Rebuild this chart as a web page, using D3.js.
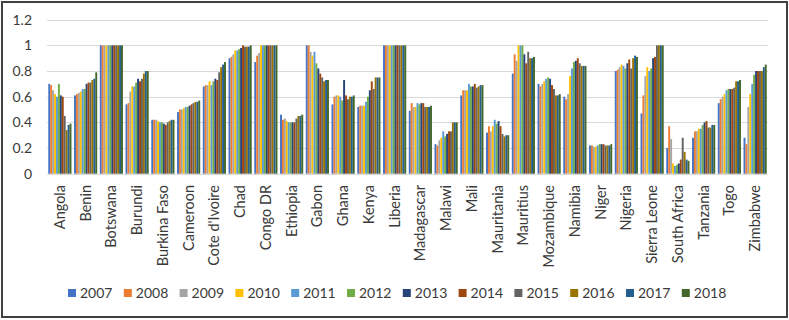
<!DOCTYPE html>
<html lang="en">
<head>
<meta charset="UTF-8"/>
<title>Grouped bars by country, 2007-2018</title>
<script src="https://d3js.org/d3.v7.min.js"></script>
<style>
    body { margin: 0; background: #fff; }
    text { font-family: Lato, "Liberation Sans", sans-serif; fill: #3a3a3a; }
</style>
</head>
<body>
<script>
    //chart size
    var w = 789;
    var h = 320;

    //categories and series
    var countries = ["Angola", "Benin", "Botswana", "Burundi", "Burkina Faso", "Cameroon", "Cote d'Ivoire",
        "Chad", "Congo DR", "Ethiopia", "Gabon", "Ghana", "Kenya", "Liberia", "Madagascar", "Malawi", "Mali",
        "Mauritania", "Mauritius", "Mozambique", "Namibia", "Niger", "Nigeria", "Sierra Leone", "South Africa",
        "Tanzania", "Togo", "Zimbabwe"];
    var years = ["2007", "2008", "2009", "2010", "2011", "2012", "2013", "2014", "2015", "2016", "2017", "2018"];
    var colors = ["#4472C4", "#ED7D31", "#A5A5A5", "#FFC000", "#5B9BD5", "#70AD47",
        "#264478", "#9E480E", "#636363", "#997300", "#255E91", "#43682B"];
    var yTicks = [0, 0.2, 0.4, 0.6, 0.8, 1, 1.2];

    //values per country, one per year
    var angola      = [0.70, 0.69, 0.65, 0.62, 0.60, 0.70, 0.61, 0.60, 0.45, 0.34, 0.38, 0.39];
    var benin       = [0.61, 0.62, 0.63, 0.64, 0.66, 0.66, 0.70, 0.71, 0.71, 0.73, 0.74, 0.79];
    var botswana    = [1, 1, 1, 1, 1, 1, 1, 1, 1, 1, 1, 1];
    var burundi     = [0.54, 0.55, 0.64, 0.68, 0.68, 0.71, 0.74, 0.72, 0.74, 0.78, 0.80, 0.80];
    var burkina     = [0.42, 0.42, 0.42, 0.41, 0.40, 0.40, 0.39, 0.38, 0.40, 0.41, 0.42, 0.42];
    var cameroon    = [0.48, 0.50, 0.50, 0.51, 0.52, 0.52, 0.53, 0.54, 0.55, 0.56, 0.56, 0.57];
    var coteIvoire  = [0.68, 0.69, 0.69, 0.72, 0.69, 0.72, 0.74, 0.73, 0.79, 0.83, 0.85, 0.87];
    var chad        = [0.90, 0.91, 0.93, 0.96, 0.96, 0.97, 0.98, 1.00, 0.99, 0.99, 0.99, 1.00];
    var congoDR     = [0.87, 0.92, 0.94, 1, 1, 1, 1, 1, 1, 1, 1, 1];
    var ethiopia    = [0.46, 0.42, 0.43, 0.41, 0.40, 0.40, 0.40, 0.40, 0.43, 0.45, 0.45, 0.46];
    var gabon       = [1.00, 1.00, 0.95, 0.92, 0.95, 0.86, 0.82, 0.78, 0.75, 0.72, 0.73, 0.73];
    var ghana       = [0.54, 0.60, 0.61, 0.61, 0.60, 0.57, 0.73, 0.61, 0.58, 0.60, 0.60, 0.61];
    var kenya       = [0.52, 0.53, 0.53, 0.53, 0.56, 0.60, 0.65, 0.72, 0.66, 0.75, 0.75, 0.75];
    var liberia     = [1, 1, 1, 1, 1, 1, 1, 1, 1, 1, 1, 1];
    var madagascar  = [0.49, 0.55, 0.52, 0.52, 0.55, 0.54, 0.55, 0.55, 0.52, 0.52, 0.52, 0.53];
    var malawi      = [0.23, 0.22, 0.26, 0.28, 0.33, 0.29, 0.31, 0.33, 0.33, 0.40, 0.40, 0.40];
    var mali        = [0.61, 0.65, 0.65, 0.65, 0.70, 0.68, 0.68, 0.70, 0.67, 0.68, 0.69, 0.69];
    var mauritania  = [0.32, 0.37, 0.33, 0.37, 0.42, 0.39, 0.41, 0.37, 0.31, 0.29, 0.30, 0.30];
    var mauritius   = [0.78, 0.93, 0.88, 1.00, 1.00, 1.00, 0.93, 0.86, 0.95, 0.90, 0.90, 0.91];
    var mozambique  = [0.70, 0.68, 0.70, 0.72, 0.74, 0.75, 0.74, 0.69, 0.66, 0.61, 0.61, 0.62];
    var namibia     = [0.60, 0.58, 0.62, 0.76, 0.82, 0.87, 0.88, 0.90, 0.86, 0.84, 0.84, 0.84];
    var niger       = [0.22, 0.22, 0.21, 0.21, 0.22, 0.23, 0.23, 0.23, 0.22, 0.22, 0.22, 0.23];
    var nigeria     = [0.80, 0.81, 0.83, 0.85, 0.84, 0.82, 0.86, 0.89, 0.82, 0.90, 0.92, 0.91];
    var sierraLeone = [0.47, 0.61, 0.76, 0.83, 0.80, 0.82, 0.90, 0.91, 1, 1, 1, 1];
    var southAfrica = [0.20, 0.37, 0.27, 0.08, 0.06, 0.07, 0.08, 0.11, 0.28, 0.17, 0.11, 0.10];
    var tanzania    = [0.28, 0.33, 0.33, 0.35, 0.35, 0.38, 0.40, 0.41, 0.36, 0.36, 0.38, 0.38];
    var togo        = [0.55, 0.58, 0.60, 0.62, 0.65, 0.66, 0.66, 0.66, 0.67, 0.72, 0.72, 0.73];
    var zimbabwe    = [0.28, 0.23, 0.52, 0.62, 0.70, 0.77, 0.80, 0.80, 0.80, 0.80, 0.83, 0.85];

    var values = [angola, benin, botswana, burundi, burkina, cameroon, coteIvoire, chad, congoDR,
        ethiopia, gabon, ghana, kenya, liberia, madagascar, malawi, mali, mauritania, mauritius,
        mozambique, namibia, niger, nigeria, sierraLeone, southAfrica, tanzania, togo, zimbabwe];

    //plot area
    var plotLeft = 47, plotRight = 768, plotTop = 19.7, plotBottom = 173.7;

    var svg = d3.select("body")
        .append("svg")
        .attr("width", w)
        .attr("height", h);

    //outer frame
    svg.append("rect")
        .attr("x", 2).attr("y", 2)
        .attr("width", w - 4).attr("height", h - 5)
        .attr("fill", "none")
        .attr("stroke", "#404040")
        .attr("stroke-width", 2);

    //scales
    var xScale = d3.scaleBand()
        .domain(countries)
        .range([plotLeft, plotRight])
        .paddingInner(0.1)
        .paddingOuter(0.05);

    var xInner = d3.scaleBand()
        .domain(years)
        .range([0, xScale.bandwidth()]);

    var yScale = d3.scaleLinear()
        .domain([0, 1.2])
        .range([plotBottom, plotTop]);

    //gridlines
    svg.append("g")
        .selectAll("line")
        .data(yTicks)
        .enter()
        .append("line")
        .attr("x1", plotLeft)
        .attr("x2", plotRight)
        .attr("y1", function (d) { return Math.round(yScale(d)) + 0.5; })
        .attr("y2", function (d) { return Math.round(yScale(d)) + 0.5; })
        .attr("stroke", "#d9d9d9")
        .attr("stroke-width", 1);

    //bars
    var groups = svg.append("g")
        .selectAll("g")
        .data(countries)
        .enter()
        .append("g")
        .attr("transform", function (d) { return "translate(" + xScale(d) + ",0)"; });

    groups.selectAll("rect")
        .data(function (d, i) {
            return years.map(function (y, j) { return { year: y, value: values[i][j], c: colors[j] }; });
        })
        .enter()
        .append("rect")
        .attr("x", function (d) { return xInner(d.year); })
        .attr("y", function (d) { return yScale(d.value); })
        .attr("width", xInner.bandwidth())
        .attr("height", function (d) { return plotBottom - yScale(d.value); })
        .attr("fill", function (d) { return d.c; });

    //y-axis labels
    var yAxis = d3.axisLeft(yScale)
        .tickValues(yTicks)
        .tickSize(0)
        .tickPadding(15)
        .tickFormat(function (d) { return d3.format("")(d); });

    svg.append("g")
        .attr("transform", "translate(" + plotLeft + ",0)")
        .call(yAxis)
        .call(function (g) { g.select(".domain").remove(); })
        .selectAll("text")
        .attr("font-size", "14px")
        .style("font-family", "Lato, sans-serif")
        .attr("fill", "#3a3a3a");

    //x-axis labels, rotated
    svg.append("g")
        .selectAll("text")
        .data(countries)
        .enter()
        .append("text")
        .attr("transform", function (d) {
            return "translate(" + (xScale(d) + xScale.bandwidth() / 2 + 5) + "," + 185 + ") rotate(-90)";
        })
        .attr("text-anchor", "end")
        .attr("font-size", "14.5px")
        .text(function (d) { return d; });

    //legend
    var legend = svg.append("g")
        .selectAll("g")
        .data(years)
        .enter()
        .append("g")
        .attr("transform", function (d, i) { return "translate(" + (68 + i * 55.8) + ",293)"; });

    legend.append("rect")
        .attr("x", 0).attr("y", -4)
        .attr("width", 8).attr("height", 8)
        .attr("fill", function (d, i) { return colors[i]; });

    legend.append("text")
        .attr("x", 12)
        .attr("y", 5)
        .attr("font-size", "14px")
        .text(function (d) { return d; });
</script>
</body>
</html>
